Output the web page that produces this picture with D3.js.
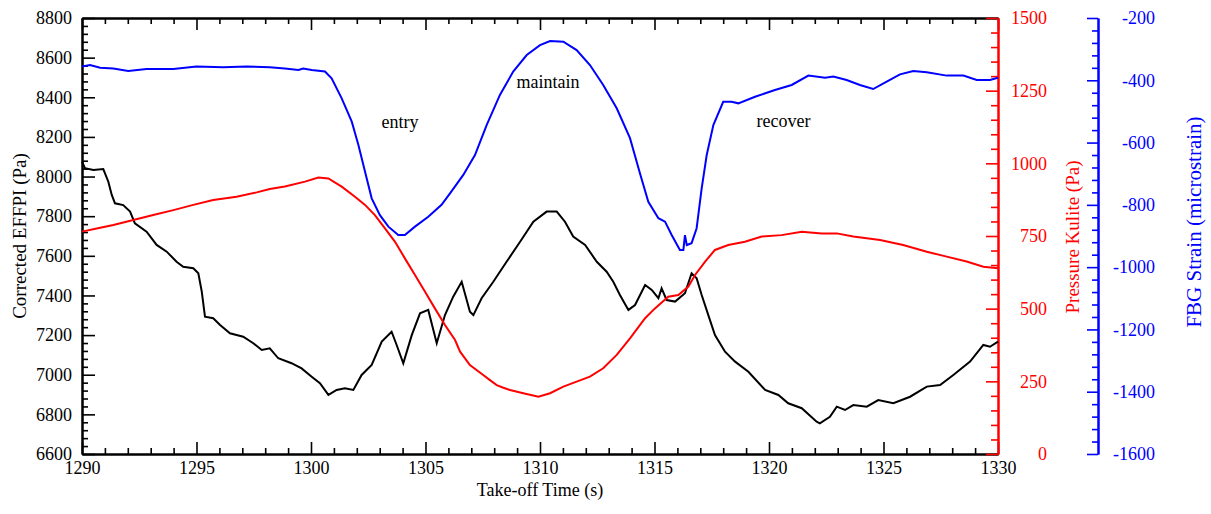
<!DOCTYPE html>
<html><head><meta charset="utf-8">
<script src="https://cdn.jsdelivr.net/npm/d3@7"></script>
<style>
body{margin:0;background:#fff;}
svg text{font-family:"Liberation Serif","Times New Roman",serif;}
</style></head>
<body><svg id="c" width="1211" height="514"></svg>
<script>
// ---- data ----
const xTicks = [1290,1295,1300,1305,1310,1315,1320,1325,1330];
const effpiTicks = [6600,6800,7000,7200,7400,7600,7800,8000,8200,8400,8600,8800];
const kuliteTicks = [0,250,500,750,1000,1250,1500];
const fbgTicks = [-1600,-1400,-1200,-1000,-800,-600,-400,-200];

const effpiT = [1290,1290.13,1290.5,1290.93,1291.15,1291.3,1291.44,1291.8,1292.1,1292.31,1292.82,1293.26,1293.7,1294.13,1294.42,1294.86,1295.08,1295.23,1295.37,1295.73,1296.03,1296.46,1297.04,1297.48,1297.85,1298.2,1298.57,1299.15,1299.59,1300.03,1300.39,1300.76,1301.12,1301.48,1301.85,1302.21,1302.65,1303.09,1303.52,1303.74,1304.03,1304.4,1304.76,1305.12,1305.49,1305.85,1306.21,1306.58,1306.94,1307.09,1307.45,1307.96,1308.54,1309.13,1309.71,1310.29,1310.73,1311.09,1311.45,1311.97,1312.48,1312.91,1313.2,1313.49,1313.86,1314.15,1314.59,1314.88,1315.17,1315.31,1315.53,1315.9,1316.33,1316.62,1316.84,1317.06,1317.35,1317.64,1318.08,1318.52,1319.1,1319.83,1320.41,1320.84,1321.43,1322.08,1322.22,1322.66,1322.96,1323.32,1323.68,1324.27,1324.77,1325.43,1326.16,1326.89,1327.47,1328.05,1328.78,1329.36,1329.65,1330];
const effpiV = [8075,8042,8033,8038,7974,7907,7865,7856,7823,7764,7722,7655,7621,7570,7545,7537,7512,7419,7293,7285,7251,7209,7192,7159,7125,7133,7083,7058,7032,6990,6957,6898,6923,6932,6923,6999,7049,7167,7217,7150,7058,7200,7310,7327,7159,7301,7394,7469,7318,7301,7386,7469,7570,7671,7772,7823,7823,7772,7697,7655,7570,7520,7469,7402,7327,7352,7453,7428,7386,7436,7377,7369,7411,7512,7487,7402,7301,7200,7116,7066,7015,6923,6898,6856,6831,6763,6755,6788,6839,6822,6847,6839,6872,6856,6889,6940,6948,6999,7066,7150,7141,7167];

const kuliteT = [1290,1290.64,1291.37,1292.24,1293.11,1293.99,1294.86,1295.73,1296.75,1297.63,1298.2,1298.86,1299.74,1300.32,1300.76,1301.34,1301.92,1302.36,1302.79,1303.23,1303.67,1304.1,1304.54,1304.98,1305.41,1305.85,1306.29,1306.51,1306.94,1307.52,1307.8,1308.11,1308.4,1308.69,1309.27,1309.93,1310.44,1311.02,1311.6,1312.18,1312.76,1313.35,1313.93,1314.37,1314.59,1315.02,1315.6,1316.04,1316.48,1316.77,1317.21,1317.64,1318.22,1318.95,1319.68,1320.55,1321.43,1322.3,1322.96,1323.68,1324.85,1325.86,1326.89,1327.76,1328.63,1329.36,1330];
const kuliteP = [765,776,788,805,822,839,857,874,885,900,912,920,937,951,948,920,885,857,822,776,730,673,616,558,501,444,392,352,306,272,255,237,228,220,209,197,209,232,249,266,295,341,398,444,467,501,541,547,576,616,662,702,719,730,748,753,765,759,759,748,736,719,696,679,662,644,639];

const fbgT = [1290,1290.35,1290.79,1291.37,1292.02,1292.82,1293.99,1295.0,1296.17,1297.19,1298.2,1298.86,1299.45,1299.66,1300.03,1300.61,1300.9,1301.34,1301.78,1302.07,1302.36,1302.65,1303.01,1303.38,1303.81,1304.1,1304.54,1305.12,1305.7,1306.07,1306.65,1307.16,1307.67,1308.25,1308.83,1309.42,1310.0,1310.44,1311.02,1311.6,1312.18,1312.76,1313.35,1313.93,1314.37,1314.73,1315.17,1315.46,1315.75,1316.11,1316.26,1316.33,1316.41,1316.62,1316.84,1317.06,1317.28,1317.57,1318.0,1318.37,1318.66,1319.39,1320.26,1320.99,1321.72,1322.45,1322.81,1323.39,1323.97,1324.55,1325.14,1325.72,1326.3,1326.89,1327.76,1328.49,1329.07,1329.65,1330];
const fbgS = [-356,-351,-360,-362,-370,-364,-364,-356,-358,-356,-358,-362,-367,-362,-367,-372,-394,-458,-533,-608,-694,-779,-833,-870,-897,-897,-870,-838,-800,-763,-704,-640,-544,-447,-372,-319,-287,-274,-276,-303,-351,-415,-490,-586,-700,-790,-843,-854,-897,-945,-945,-897,-929,-923,-875,-747,-640,-544,-469,-469,-474,-453,-431,-415,-385,-392,-388,-399,-415,-428,-404,-381,-370,-374,-385,-385,-399,-399,-392];

const annText = ["entry","maintain","recover"];
const annT = [1303.89,1310.35,1320.63];
const annV = [8245,8447,8250];

// ---- layout ----
const L=82, R=998, T=18, B=454;
const svg = d3.select("#c");
const x = d3.scaleLinear().domain([1290,1330]).range([L,R]);
const yL = d3.scaleLinear().domain([6600,8800]).range([B,T]);
const yR = d3.scaleLinear().domain([0,1500]).range([B,T]);
const yB = d3.scaleLinear().domain([-1600,-200]).range([B,T]);
const BLUEX = 1098;
const RED="#ff0000", BLUE="#0000ff";

function minors(a,b,step,majors){const out=[];for(let v=a;v<=b+1e-9;v+=step){if(!majors.some(m=>Math.abs(m-v)<1e-6))out.push(+v.toFixed(4));}return out;}

function styleAxis(g,color,w){g.select(".domain").attr("stroke",color).attr("stroke-width",w||2);g.selectAll(".tick line").attr("stroke",color).attr("stroke-width",1.6);g.selectAll("text").attr("fill",color).style("font-size","18px").style("font-family","Liberation Serif, serif");}

// bottom
let g=svg.append("g").attr("transform",`translate(0,${B})`).call(d3.axisBottom(x).tickValues(xTicks).tickSize(-12).tickSizeOuter(0).tickPadding(7).tickFormat(d3.format("d")));
styleAxis(g,"#000");
g=svg.append("g").attr("transform",`translate(0,${B})`).call(d3.axisBottom(x).tickValues(minors(1290,1330,1,xTicks)).tickSize(-6).tickSizeOuter(0).tickFormat(""));
styleAxis(g,"#000");
// top
g=svg.append("g").attr("transform",`translate(0,${T})`).call(d3.axisTop(x).tickValues(xTicks).tickSize(-12).tickSizeOuter(0).tickFormat(""));
styleAxis(g,"#000");
g=svg.append("g").attr("transform",`translate(0,${T})`).call(d3.axisTop(x).tickValues(minors(1290,1330,1,xTicks)).tickSize(-6).tickSizeOuter(0).tickFormat(""));
styleAxis(g,"#000");
// left
g=svg.append("g").attr("transform",`translate(${L},0)`).call(d3.axisLeft(yL).tickValues(effpiTicks).tickSize(-13).tickSizeOuter(0).tickPadding(10).tickFormat(d3.format("d")));
styleAxis(g,"#000");
g=svg.append("g").attr("transform",`translate(${L},0)`).call(d3.axisLeft(yL).tickValues(minors(6600,8800,40,effpiTicks)).tickSize(-6).tickSizeOuter(0).tickFormat(""));
styleAxis(g,"#000");
// red right
g=svg.append("g").attr("transform",`translate(${R},0)`).call(d3.axisRight(yR).tickValues(kuliteTicks).tickSize(-12).tickSizeOuter(0).tickFormat(d3.format("d")));
styleAxis(g,RED);
g.selectAll("text").attr("text-anchor","end").attr("x",49);
g=svg.append("g").attr("transform",`translate(${R},0)`).call(d3.axisRight(yR).tickValues(minors(0,1500,50,kuliteTicks)).tickSize(-7).tickSizeOuter(0).tickFormat(""));
styleAxis(g,RED);
// blue right
g=svg.append("g").attr("transform",`translate(${BLUEX},0)`).call(d3.axisRight(yB).tickValues(fbgTicks).tickSize(-11).tickSizeOuter(0).tickFormat(d3.format("d")));
styleAxis(g,BLUE);
g.selectAll("text").attr("text-anchor","end").attr("x",57).text(d=>String(d));
g=svg.append("g").attr("transform",`translate(${BLUEX},0)`).call(d3.axisRight(yB).tickValues(minors(-1600,-200,40,fbgTicks)).tickSize(-6).tickSizeOuter(0).tickFormat(""));
styleAxis(g,BLUE);

// lines
const line=(xs,ys,sy)=>d3.line().x((d,i)=>x(xs[i])).y((d,i)=>sy(ys[i]))(xs);
svg.append("path").attr("d",line(effpiT,effpiV,yL)).attr("fill","none").attr("stroke","#000").attr("stroke-width",2);
svg.append("path").attr("d",line(kuliteT,kuliteP,yR)).attr("fill","none").attr("stroke",RED).attr("stroke-width",2);
svg.append("path").attr("d",line(fbgT,fbgS,yB)).attr("fill","none").attr("stroke",BLUE).attr("stroke-width",2);

// annotations
svg.selectAll(".ann").data(annText).enter().append("text").attr("class","ann")
  .attr("x",(d,i)=>x(annT[i])).attr("y",(d,i)=>yL(annV[i])).attr("text-anchor","middle")
  .style("font-size","18px").attr("fill","#000").text(d=>d);

// titles
svg.append("text").attr("transform",`translate(${(L+R)/2},${496})`).attr("text-anchor","middle").style("font-size","18px").text("Take-off Time (s)");
svg.append("text").attr("transform",`translate(26,${236}) rotate(-90)`).attr("text-anchor","middle").style("font-size","19px").text("Corrected EFFPI (Pa)");
svg.append("text").attr("transform",`translate(1079,${237}) rotate(-90)`).attr("text-anchor","middle").attr("fill",RED).style("font-size","19px").text("Pressure Kulite (Pa)");
svg.append("text").attr("transform",`translate(1201,${222}) rotate(-90)`).attr("text-anchor","middle").attr("fill",BLUE).style("font-size","21px").text("FBG Strain (microstrain)");
</script></body></html>
